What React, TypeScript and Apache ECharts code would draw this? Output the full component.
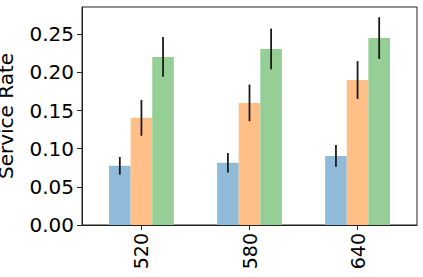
import React, { useEffect, useRef } from "react";
import * as echarts from "echarts";

const categories = ["520", "580", "640"];
const blueValues = [0.0776, 0.0815, 0.0905];
const blueErrors = [0.0116, 0.0128, 0.0142];
const orangeValues = [0.1405, 0.16, 0.19];
const orangeErrors = [0.0235, 0.024, 0.0248];
const greenValues = [0.2203, 0.2307, 0.245];
const greenErrors = [0.026, 0.0267, 0.0274];
const yTicks = [0, 0.05, 0.1, 0.15, 0.2, 0.25];

const FONT = "DejaVu Sans";
const offsets = [-0.2, 0, 0.2];
const colors = ["#8fbbd9", "#ffbf86", "#95cf95"];

export default function App() {
  const ref = useRef<HTMLDivElement>(null);
  useEffect(() => {
    if (!ref.current) return;
    const chart = echarts.init(ref.current, null, { renderer: "svg" });
    const vals = [blueValues, orangeValues, greenValues];
    const errs = [blueErrors, orangeErrors, greenErrors];
    const barSeries = vals.map((v, s) => ({
      type: "bar",
      barWidth: 21.6,
      barGap: "-100%",
      itemStyle: { color: colors[s] },
      data: v.map((y, i) => [i + offsets[s], y]),
    }));
    const errData: number[][] = [];
    vals.forEach((v, s) =>
      v.forEach((y, i) => errData.push([i + offsets[s], y - errs[s][i], y + errs[s][i]]))
    );
    const errSeries = {
      type: "custom",
      data: errData,
      z: 10,
      renderItem: (params: any, api: any) => {
        const x = api.value(0);
        const p1 = api.coord([x, api.value(1)]);
        const p2 = api.coord([x, api.value(2)]);
        return {
          type: "line",
          shape: { x1: p1[0], y1: p1[1], x2: p2[0], y2: p2[1] },
          style: { stroke: "#1a1a1a", lineWidth: 1.8 },
        };
      },
    };
    chart.setOption({
      animation: false,
      grid: {
        left: 82,
        right: 6,
        top: 7,
        bottom: 52,
        show: true,
        borderColor: "#222",
        borderWidth: 1,
        containLabel: false,
        outerBoundsMode: "none",
      },
      xAxis: {
        type: "value",
        min: -0.55,
        max: 2.55,
        splitLine: { show: false },
        axisLine: { show: true, onZero: false, lineStyle: { color: "#222", width: 1 } },
        axisTick: {
          show: true,
          length: 5,
          customValues: [0, 1, 2],
          lineStyle: { color: "#222" },
        },
        axisLabel: {
          customValues: [0, 1, 2],
          rotate: 90,
          margin: 8,
          fontFamily: FONT,
          fontSize: 19,
          color: "#000",
          formatter: (v: number) => categories[Math.round(v)] ?? "",
        },
      },
      yAxis: {
        type: "value",
        min: 0,
        max: 0.2857,
        splitLine: { show: false },
        axisLine: { show: true, onZero: false, lineStyle: { color: "#222", width: 1 } },
        axisTick: {
          show: true,
          length: 5,
          customValues: yTicks,
          lineStyle: { color: "#222" },
        },
        axisLabel: {
          customValues: yTicks,
          margin: 8,
          fontFamily: FONT,
          fontSize: 20,
          color: "#000",
          formatter: (v: number) => v.toFixed(2),
        },
        name: "Service Rate",
        nameLocation: "middle",
        nameGap: 66,
        nameMoveOverlap: false,
        nameTextStyle: { fontFamily: FONT, fontSize: 20, color: "#000" },
      },
      series: [...barSeries, errSeries],
    });
    return () => chart.dispose();
  }, []);
  return (
    <div
      ref={ref}
      style={{ position: "fixed", left: 0, top: 0, width: 423, height: 277, background: "#fff" }}
    />
  );
}
